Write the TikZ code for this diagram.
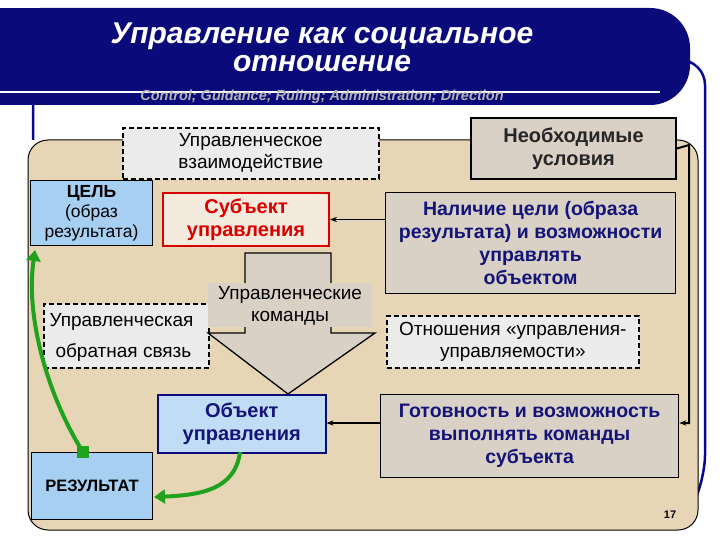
\documentclass[tikz,border=0pt]{standalone}
\usepackage{fontspec}
\setmainfont{Liberation Sans}
\usetikzlibrary{arrows.meta}
\definecolor{navy}{HTML}{0A0A7A}
\definecolor{tan}{HTML}{E6D6B6}
\definecolor{boxg}{HTML}{D9D0C6}
\definecolor{dashg}{HTML}{ECECEC}
\definecolor{lblue}{HTML}{A6CFF2}
\definecolor{gr}{HTML}{1FA31F}
\definecolor{txtb}{HTML}{141478}
\tikzset{
 dbox/.style={draw=black,dash pattern=on 5pt off 3pt,line width=1.6pt,fill=dashg},
 sbox/.style={draw=black,line width=1.3pt,fill=boxg},
 lbl/.style={align=center,font=\fontsize{19}{22}\selectfont},
 blbl/.style={align=center,font=\bfseries\fontsize{20}{23}\selectfont,text=txtb},
 garrow/.style={draw=gr,line width=4pt,-{Triangle[length=11pt,width=14pt]}}
}
\begin{document}
\begin{tikzpicture}[x=1pt,y=-1pt]
\useasboundingbox (0,0) rectangle (720,540);
\fill[white] (0,0) rectangle (720,540);
% blue frame
\draw[navy!80!blue,line width=2.5pt,rounded corners=25] (33,140) -- (33,60) -- (705,60) -- (705,480) -- (690,510);
% panel
\draw[fill=tan,line width=1pt,rounded corners=20] (28,140) rectangle (698,530);
% header
\fill[navy,rounded corners=40] (0,8) -- (690,8) -- (690,105) -- (0,105) -- cycle;
\fill[navy] (0,8) rectangle (60,105);
\draw[white,line width=1.2pt] (0,92) -- (660,92);
\node[text=white,font=\bfseries\itshape\fontsize{30}{31}\selectfont] (t1) at (322,36) {Управление как социальное};
\node[text=white,font=\bfseries\itshape\fontsize{30}{31}\selectfont] (t2) at (322,64) {отношение};
\node[text=gray!60,font=\bfseries\itshape\fontsize{14.5}{15}\selectfont] (t3) at (322,97) {Control; Guidance; Ruling; Administration; Direction};
% boxes
\node[dbox,minimum width=256,minimum height=51,anchor=north west] (vz) at (122,127) {};
\node[lbl] at (vz) {Управленческое\\взаимодействие};
\node[sbox,line width=2pt,minimum width=205,minimum height=61,anchor=north west] (nu) at (470,117) {};
\node[blbl,text=black!85] at (nu) {Необходимые\\условия};
\node[draw=black,fill=lblue,line width=1pt,minimum width=122,minimum height=65,anchor=north west] (cel) at (30,180) {};
\node[lbl,font=\fontsize{17.5}{20}\selectfont] at (cel) {\textbf{ЦЕЛЬ}\\(образ\\результата)};
\node[draw=red!85!black,fill=red!5!tan!40!white,line width=2pt,minimum width=166,minimum height=53,anchor=north west] (sub) at (162,192) {};
\node[blbl,text=red!85!black] at (sub) {Субъект\\управления};
\node[sbox,minimum width=290,minimum height=101,anchor=north west] (nal) at (385,192) {};
\node[blbl,font=\bfseries\fontsize{19.5}{23}\selectfont] at (nal) {Наличие цели (образа\\результата) и возможности\\управлять\\объектом};
% feedback box
\node[dbox,minimum width=165,minimum height=64,anchor=north west] (fb) at (43,303) {};
% big arrow
\draw[fill=boxg,line width=1.3pt] (245,253) -- (331,253) -- (331,333) -- (375,333) -- (288,394) -- (208,333) -- (245,333) -- cycle;
\fill[boxg] (208,283) rectangle (372,327);
\node[lbl] (cmd) at (290,306) {Управленческие\\команды};
\node[lbl,anchor=west] at (46,322) {Управленческая};
\node[lbl,anchor=west] at (52,353) {обратная связь};
\node[dbox,minimum width=252,minimum height=52,anchor=north west] (otn) at (386,315) {};
\node[lbl] at (otn) {Отношения «управления-\\управляемости»};
\node[draw=navy,fill=lblue!70!white,line width=1.5pt,minimum width=168,minimum height=58,anchor=north west] (obj) at (157,394) {};
\node[blbl] at (obj) {Объект\\управления};
\node[sbox,minimum width=298,minimum height=83,anchor=north west] (got) at (380,394) {};
\node[blbl,font=\bfseries\fontsize{19.5}{23}\selectfont] at (got) {Готовность и возможность\\выполнять команды\\субъекта};
\node[draw=black,fill=lblue,line width=1pt,minimum width=121,minimum height=67,anchor=north west] (res) at (31,452) {};
\node[font=\bfseries\fontsize{16.5}{18}\selectfont] at (res) {РЕЗУЛЬТАТ};
\node[font=\bfseries\fontsize{11}{12}\selectfont] (pg) at (670,515) {17};
% connectors
\draw[line width=1.5pt,-{Stealth[length=7pt]}] (nal.west |- sub.east) -- (sub.east);
\draw[line width=2pt,-{Stealth[length=7pt]}] (nu.east) -- (689,145) -- (689,423) -- (got.east |- 0,423);
\draw[line width=2pt,-{Stealth[length=7pt]}] (got.west |- 0,423) -- (obj.east |- 0,423);
\fill[gr] (77,446) rectangle (89,458);
\draw[garrow] (83,452) .. controls (50,400) and (25,320) .. (35,250);
\draw[garrow] (240,452) .. controls (235,490) and (200,495) .. (154,497);
\end{tikzpicture}
\end{document}
